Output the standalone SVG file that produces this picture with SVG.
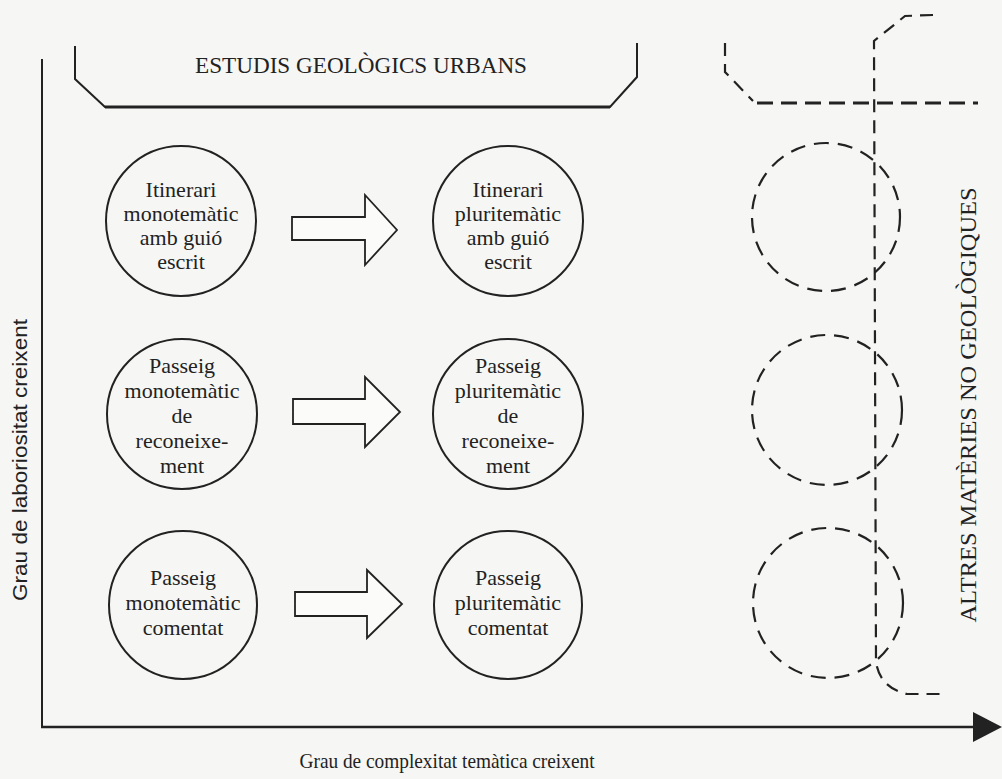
<svg xmlns="http://www.w3.org/2000/svg" width="1002" height="779" viewBox="0 0 1002 779">
<style>
.bg{fill:#f6f6f4}
.ln{fill:none;stroke:#222;stroke-width:2;stroke-linejoin:miter}
.node{fill:none;stroke:#222;stroke-width:2}
.dash{fill:none;stroke:#222;stroke-width:2.2;stroke-dasharray:13 8}
.dc{fill:none;stroke:#222;stroke-width:2.2;stroke-dasharray:15 9}
.arrow{fill:#fbfbfa;stroke:#222;stroke-width:1.8;stroke-linejoin:miter}
.t{font-family:"Liberation Serif","Times New Roman",serif;font-size:22px;fill:#222;text-anchor:middle}
.big{font-family:"Liberation Serif","Times New Roman",serif;font-size:24px;fill:#222}
.sans{font-family:"Liberation Sans",Arial,sans-serif;font-size:20px;fill:#222}
</style>
<rect class="bg" x="0" y="0" width="1002" height="779"/>

<g id="axes">
  <line class="ln" x1="42" y1="59" x2="42" y2="728"/>
  <line class="ln" x1="41" y1="727" x2="976" y2="727" style="stroke-width:2.5"/>
  <polygon points="973,712 1002,727 973,742" fill="#222"/>
  <text class="sans" transform="translate(27,460) rotate(-90)" text-anchor="middle" textLength="282" lengthAdjust="spacingAndGlyphs">Grau de laboriositat creixent</text>
  <text class="big" x="447" y="768" text-anchor="middle" style="font-size:22px" textLength="295" lengthAdjust="spacingAndGlyphs">Grau de complexitat temàtica creixent</text>
</g>

<g id="bracket">
  <path class="ln" d="M75,46 L75,79 L105,107 L610,107 L637,77 L637,43"/>
  <line class="ln" x1="105" y1="107" x2="610" y2="107" style="stroke-width:3"/>
  <text class="big" x="361" y="73" text-anchor="middle" textLength="332" lengthAdjust="spacingAndGlyphs">ESTUDIS GEOLÒGICS URBANS</text>
</g>

<g id="n1">
  <circle class="node" cx="181" cy="221" r="75"/>
  <text class="t" x="181" y="197">Itinerari</text>
  <text class="t" x="181" y="221">monotemàtic</text>
  <text class="t" x="181" y="245">amb guió</text>
  <text class="t" x="181" y="269">escrit</text>
</g>
<g id="n2">
  <circle class="node" cx="508" cy="221" r="75"/>
  <text class="t" x="508" y="197">Itinerari</text>
  <text class="t" x="508" y="221">pluritemàtic</text>
  <text class="t" x="508" y="245">amb guió</text>
  <text class="t" x="508" y="269">escrit</text>
</g>
<g id="n3">
  <circle class="node" cx="182" cy="414" r="75"/>
  <text class="t" x="182" y="373">Passeig</text>
  <text class="t" x="182" y="398">monotemàtic</text>
  <text class="t" x="182" y="423">de</text>
  <text class="t" x="182" y="448">reconeixe-</text>
  <text class="t" x="182" y="473">ment</text>
</g>
<g id="n4">
  <circle class="node" cx="508" cy="414" r="75"/>
  <text class="t" x="508" y="373">Passeig</text>
  <text class="t" x="508" y="398">pluritemàtic</text>
  <text class="t" x="508" y="423">de</text>
  <text class="t" x="508" y="448">reconeixe-</text>
  <text class="t" x="508" y="473">ment</text>
</g>
<g id="n5">
  <circle class="node" cx="183" cy="605" r="74"/>
  <text class="t" x="183" y="585">Passeig</text>
  <text class="t" x="183" y="610">monotemàtic</text>
  <text class="t" x="183" y="635">comentat</text>
</g>
<g id="n6">
  <circle class="node" cx="508" cy="605" r="74"/>
  <text class="t" x="508" y="585">Passeig</text>
  <text class="t" x="508" y="610">pluritemàtic</text>
  <text class="t" x="508" y="635">comentat</text>
</g>

<g id="connectors">
  <polygon class="arrow" points="292,217 365,217 365,195 397,230 365,265 365,240 292,240"/>
  <polygon class="arrow" points="293,399 365,399 365,377 400,412 365,447 365,424 293,424"/>
  <polygon class="arrow" points="295,592 367,592 367,570 402,604 367,638 367,616 295,616"/>
</g>

<g id="other">
  <path class="dash" d="M725,43 L725,72 L753,101"/>
  <line class="dash" x1="757" y1="103" x2="978" y2="103" style="stroke-width:3.2;stroke-dasharray:16 8"/>
  <path class="dash" d="M933,15 L905,16 L874,41 L876,662 Q880,688 907,694 L942,694"/>
  <circle class="dc" cx="826" cy="217" r="74"/>
  <circle class="dc" cx="827" cy="410" r="75"/>
  <circle class="dc" cx="828" cy="603" r="75"/>
  <text class="big" transform="translate(976,405) rotate(-90)" text-anchor="middle" textLength="435" lengthAdjust="spacingAndGlyphs">ALTRES MATÈRIES NO GEOLÒGIQUES</text>
</g>
</svg>
